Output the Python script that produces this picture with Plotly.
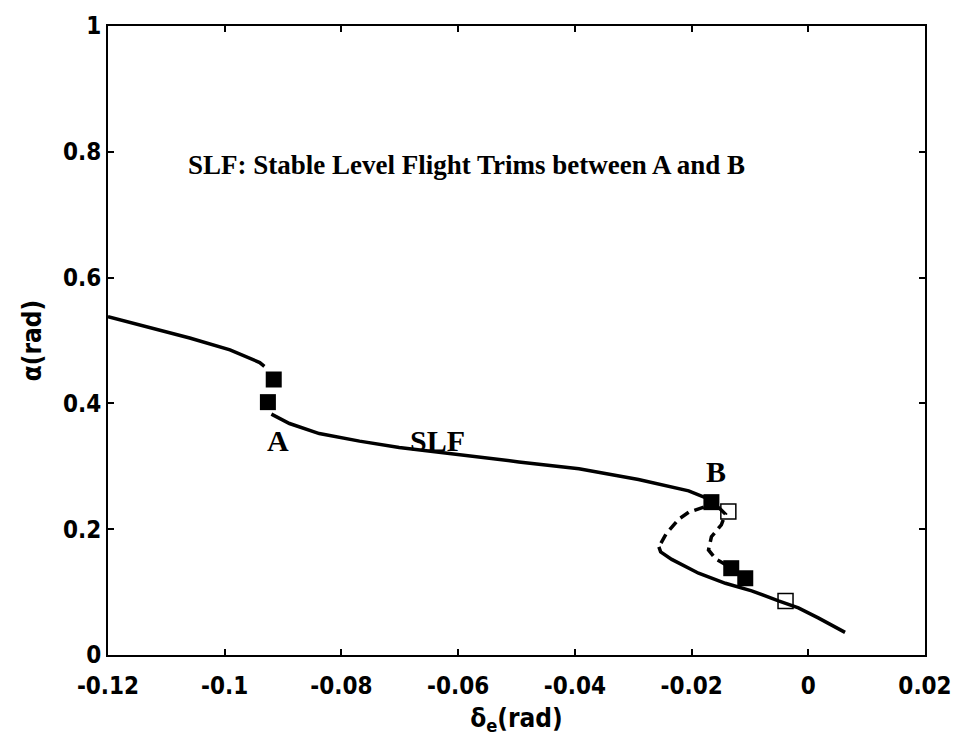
import plotly.graph_objects as go

# upper stable branch (left of A)
up_x = [-0.12, -0.1128, -0.1060, -0.0991, -0.0940, -0.0932]
up_y = [0.538, 0.521, 0.504, 0.485, 0.465, 0.459]
# SLF branch A -> B
slf_x = [-0.0920, -0.0889, -0.0838, -0.0769, -0.0701, -0.0598, -0.0496, -0.0393, -0.0291, -0.0205, -0.0168]
slf_y = [0.383, 0.368, 0.352, 0.340, 0.330, 0.318, 0.307, 0.296, 0.279, 0.261, 0.247]
# outer branch from B (dashed part then solid)
outd_x = [-0.0179, -0.0205, -0.0222, -0.0244, -0.0256]
outd_y = [0.235, 0.227, 0.216, 0.192, 0.172]
outs_x = [-0.0256, -0.0253, -0.0234, -0.0188, -0.0142, -0.0097, -0.0051, -0.0017, 0.0017, 0.0063]
outs_y = [0.172, 0.164, 0.152, 0.130, 0.114, 0.102, 0.086, 0.075, 0.059, 0.036]
# inner branch from B
in_x = [-0.0154, -0.0142, -0.0149, -0.0166, -0.0171, -0.0159, -0.0142, -0.0128, -0.0106]
in_y = [0.235, 0.224, 0.207, 0.188, 0.167, 0.153, 0.144, 0.136, 0.121]
# markers
fill_x = [-0.0916, -0.0926, -0.0166, -0.0132, -0.0108]
fill_y = [0.438, 0.402, 0.243, 0.138, 0.122]
open_x = [-0.0137, -0.0039]
open_y = [0.228, 0.086]

xticks = [-0.12, -0.1, -0.08, -0.06, -0.04, -0.02, 0, 0.02]
xtick_text = ["-0.12", "-0.1", "-0.08", "-0.06", "-0.04", "-0.02", "0", "0.02"]
yticks = [0, 0.2, 0.4, 0.6, 0.8, 1]
ytick_text = ["0", "0.2", "0.4", "0.6", "0.8", "1"]

fig = go.Figure()
solid = dict(color="black", width=3.5)
dashed = dict(color="black", width=3.5, dash="10px,6px")
fig.add_trace(go.Scatter(x=up_x, y=up_y, mode="lines", line=solid))
fig.add_trace(go.Scatter(x=slf_x, y=slf_y, mode="lines", line=solid))
fig.add_trace(go.Scatter(x=outd_x, y=outd_y, mode="lines", line=dashed))
fig.add_trace(go.Scatter(x=outs_x, y=outs_y, mode="lines", line=solid))
fig.add_trace(go.Scatter(x=in_x, y=in_y, mode="lines", line=dashed))
fig.add_trace(go.Scatter(x=open_x, y=open_y, mode="markers",
                         marker=dict(symbol="square-open", size=15, color="black", line=dict(width=1.5))))
fig.add_trace(go.Scatter(x=fill_x, y=fill_y, mode="markers",
                         marker=dict(symbol="square", size=16, color="black")))

serif = dict(family="Liberation Serif, Times New Roman, serif", color="black")
fig.add_annotation(x=-0.0909, y=0.341, text="<b>A</b>", showarrow=False, font=dict(size=30, **serif))
fig.add_annotation(x=-0.0636, y=0.341, text="<b>SLF</b>", showarrow=False, font=dict(size=30, **serif))
fig.add_annotation(x=-0.0159, y=0.292, text="<b>B</b>", showarrow=False, font=dict(size=30, **serif))
fig.add_annotation(x=-0.0585, y=0.779, text="<b>SLF: Stable Level Flight Trims between A and B</b>",
                   showarrow=False, font=dict(size=27, **serif))

sans = dict(family="DejaVu Sans Condensed, Liberation Sans, Arial, sans-serif", color="black")
axis_common = dict(showgrid=False, zeroline=False, showline=True, linecolor="black", linewidth=2,
                   mirror="ticks", ticks="inside", ticklen=6, tickwidth=1.5, tickcolor="black",
                   tickfont=dict(size=24, **sans))
fig.update_xaxes(range=[-0.12, 0.02], tickvals=xticks, ticktext=["<b>%s</b>" % t for t in xtick_text],
                 ticklabelstandoff=8,
                 title=dict(text="<b>δ<sub>e</sub>(rad)</b>", font=dict(size=26, **sans), standoff=10),
                 **axis_common)
fig.update_yaxes(range=[0, 1], tickvals=yticks, ticktext=["<b>%s</b>" % t for t in ytick_text],
                 title=dict(text="<b>α(rad)</b>", font=dict(size=26, **sans), standoff=14),
                 **axis_common)
fig.update_layout(width=964, height=751, showlegend=False, plot_bgcolor="white", paper_bgcolor="white",
                  margin=dict(l=108, r=37, t=16, b=96))
fig.write_html("out.html")
